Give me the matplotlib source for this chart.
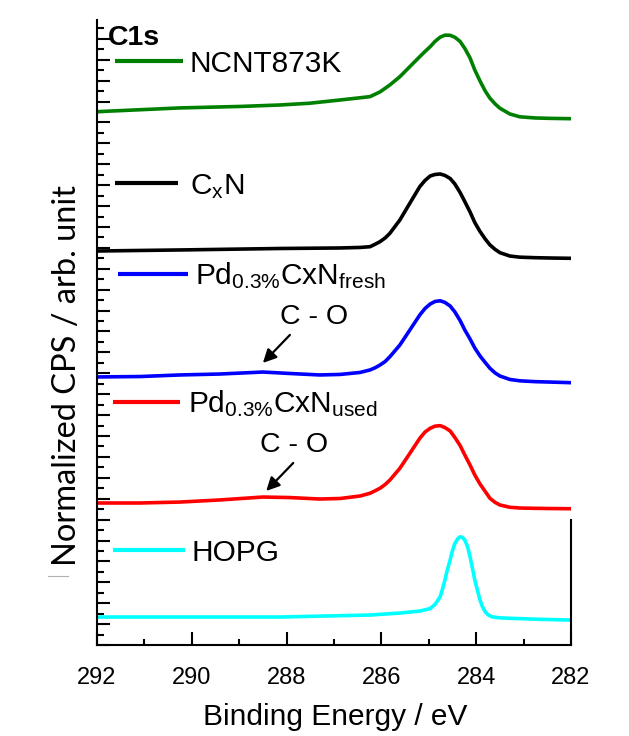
import matplotlib
matplotlib.use('Agg')
import matplotlib.pyplot as plt
from matplotlib.lines import Line2D
from matplotlib.ticker import MultipleLocator

plt.rcParams['font.family'] = ['Liberation Sans', 'DejaVu Sans']
plt.rcParams['mathtext.fontset'] = 'custom'
plt.rcParams['mathtext.rm'] = 'Liberation Sans'

# C1s spectra, stacked with an offset (binding energy in eV, normalized CPS)
e_ncnt = [292.00, 290.25, 288.98, 288.14, 287.51, 286.87, 286.45, 286.24, 286.03, 285.82, 285.61, 285.40,
          285.19, 285.08, 284.97, 284.87, 284.76, 284.66, 284.55, 284.45, 284.34, 284.24, 284.13, 284.03,
          283.92, 283.81, 283.71, 283.60, 283.50, 283.29, 283.08, 282.76, 282.44, 282.00]
cps_ncnt = [51.03, 51.39, 51.53, 51.67, 51.84, 52.15, 52.36, 52.47, 52.92, 53.59, 54.38, 55.34,
            56.30, 56.79, 57.25, 57.75, 58.16, 58.35, 58.34, 58.15, 57.75, 57.08, 56.17, 55.02,
            53.97, 53.01, 52.32, 51.77, 51.36, 50.81, 50.54, 50.43, 50.39, 50.36]

e_cxn = [292.00, 290.25, 288.14, 286.87, 286.45, 286.24, 286.14, 286.03, 285.92, 285.82, 285.61, 285.40,
         285.19, 285.08, 284.97, 284.87, 284.76, 284.66, 284.55, 284.45, 284.34, 284.24, 284.13, 284.03,
         283.92, 283.81, 283.71, 283.60, 283.50, 283.29, 283.08, 282.76, 282.44, 282.00]
cps_cxn = [37.70, 37.80, 37.94, 37.99, 38.04, 38.11, 38.33, 38.59, 38.95, 39.40, 40.67, 42.27,
           43.86, 44.45, 44.88, 45.02, 45.07, 44.93, 44.64, 44.11, 43.30, 42.42, 41.44, 40.43,
           39.57, 38.85, 38.28, 37.85, 37.54, 37.22, 37.11, 37.06, 37.03, 37.00]

# both Pd samples share the same energy grid
e_pd = [292.00, 291.09, 290.25, 289.41, 288.50, 287.93, 287.30, 286.87, 286.45, 286.24, 286.14, 286.03,
        285.92, 285.82, 285.61, 285.40, 285.19, 285.08, 284.97, 284.87, 284.76, 284.66, 284.55, 284.45,
        284.34, 284.24, 284.13, 284.03, 283.92, 283.81, 283.71, 283.60, 283.50, 283.29, 283.08, 282.76,
        282.44, 282.00]
cps_fresh = [25.65, 25.69, 25.84, 25.93, 26.12, 25.98, 25.84, 25.89, 26.08, 26.32, 26.51, 26.79,
             27.13, 27.59, 28.71, 30.14, 31.58, 32.20, 32.63, 32.87, 32.94, 32.78, 32.44, 31.87,
             31.05, 30.14, 29.28, 28.42, 27.66, 27.03, 26.48, 26.03, 25.74, 25.41, 25.28, 25.20,
             25.16, 25.10]
cps_used = [13.59, 13.59, 13.68, 13.88, 14.16, 14.11, 13.97, 14.02, 14.26, 14.52, 14.74, 15.00,
            15.36, 15.79, 16.91, 18.34, 19.78, 20.38, 20.74, 20.94, 20.99, 20.81, 20.48, 19.86,
            19.09, 18.18, 17.22, 16.27, 15.41, 14.69, 14.04, 13.64, 13.40, 13.18, 13.11, 13.08,
            13.06, 13.04]

e_hopg = [292.00, 290.25, 288.14, 286.24, 285.61, 285.19, 284.97, 284.87, 284.82, 284.76, 284.71, 284.66,
          284.61, 284.55, 284.50, 284.45, 284.39, 284.34, 284.29, 284.24, 284.18, 284.13, 284.08, 284.03,
          283.97, 283.92, 283.87, 283.81, 283.75, 283.67, 283.50, 283.29, 282.65, 282.00]
cps_hopg = [2.68, 2.68, 2.68, 2.87, 3.06, 3.25, 3.49, 3.88, 4.21, 4.62, 5.36, 6.22,
            7.18, 8.13, 9.04, 9.73, 10.16, 10.36, 10.29, 10.05, 9.38, 8.45, 7.37, 6.22,
            5.17, 4.31, 3.68, 3.19, 2.89, 2.70, 2.60, 2.56, 2.46, 2.39]

x_ticks = [292, 290, 288, 286, 284, 282]

fig = plt.figure(figsize=(6.29, 7.36), dpi=100)
ax = fig.add_axes([0.1542, 0.1236, 0.7536, 0.8492])

series = [
    (e_ncnt, cps_ncnt, 'green'),
    (e_cxn, cps_cxn, 'black'),
    (e_pd, cps_fresh, '#0000ff'),
    (e_pd, cps_used, '#ff0000'),
    (e_hopg, cps_hopg, '#00ffff'),
]
for e, c, col in series:
    ax.plot(e, c, color=col, lw=2.6, solid_joinstyle='round', solid_capstyle='round')

ax.set_xlim(292, 282)
ax.set_ylim(0, 59.8)
ax.set_xticks(x_ticks)
ax.set_xticklabels([str(t) for t in x_ticks])
ax.xaxis.set_minor_locator(MultipleLocator(1))
ax.yaxis.set_major_locator(MultipleLocator(2))
ax.yaxis.set_minor_locator(MultipleLocator(1))
ax.set_yticklabels([])
ax.tick_params(axis='both', which='both', direction='in', width=1.5, color='black')
ax.tick_params(axis='x', which='major', length=9.5, labelsize=17, pad=16)
ax.tick_params(axis='x', which='minor', length=4.5)
ax.tick_params(axis='y', which='major', length=9)
ax.tick_params(axis='y', which='minor', length=5)
ax.tick_params(top=False, right=False, which='both')

ax.spines['top'].set_visible(False)
ax.spines['right'].set_bounds(0, 11.96)
for s in ['left', 'bottom', 'right']:
    ax.spines[s].set_linewidth(1.5)

# legend keys and labels drawn by hand, one per trace
legend_rows = [
    (0.934, 0.038, 0.181, 0.196, 'green', 'NCNT873K'),
    (0.739, 0.038, 0.171, 0.196, 'black', r'$\mathregular{C_xN}$'),
    (0.594, 0.044, 0.192, 0.207, '#0000ff', r'$\mathregular{Pd_{0.3\%}CxN_{fresh}}$'),
    (0.389, 0.034, 0.175, 0.192, '#ff0000', r'$\mathregular{Pd_{0.3\%}CxN_{used}}$'),
    (0.152, 0.034, 0.185, 0.200, '#00ffff', 'HOPG'),
]
cap_half = 10.6 / 625
for y, x0, x1, xt, col, lab in legend_rows:
    ax.plot([x0, x1], [y, y], color=col, lw=3.0, transform=ax.transAxes, solid_capstyle='butt')
    ax.text(xt, y - cap_half, lab, transform=ax.transAxes, fontsize=21.5, ha='left', va='baseline')

ax.text(0.022, 0.972, 'C1s', transform=ax.transAxes, fontsize=20.5, fontweight='bold',
        ha='left', va='center')

# C - O shoulders
ax.text(287.42, 31.39, 'C - O', fontsize=20.5, ha='center', va='center')
ax.annotate('', xy=(288.50, 26.99), xytext=(287.93, 29.67),
            arrowprops=dict(arrowstyle='-|>', color='black', lw=1.6, mutation_scale=20,
                            shrinkA=0, shrinkB=0))
ax.text(287.84, 19.14, 'C - O', fontsize=20.5, ha='center', va='center')
ax.annotate('', xy=(288.43, 14.74), xytext=(287.86, 17.42),
            arrowprops=dict(arrowstyle='-|>', color='black', lw=1.6, mutation_scale=20,
                            shrinkA=0, shrinkB=0))

fig.text(0.533, 0.026, 'Binding Energy / eV', fontsize=21.5, ha='center', va='center')
fig.text(0.107, 0.490, 'Normalized CPS / arb. unit', fontsize=23.5, rotation=90,
         ha='center', va='center', family=['Lato', 'DejaVu Sans'])
fig.add_artist(Line2D([0.076, 0.108], [0.218, 0.218], color='#b0b0b0', lw=0.8))

fig.savefig('out.png', dpi=100, facecolor='white')
